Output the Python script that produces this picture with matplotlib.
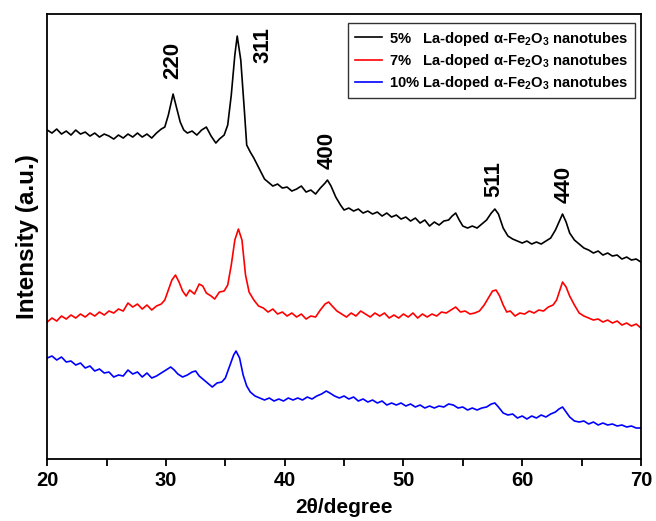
import numpy as np
import matplotlib
matplotlib.use("Agg")
import matplotlib.pyplot as plt
from matplotlib.ticker import MultipleLocator

plt.rcParams['font.family'] = ['Liberation Sans', 'DejaVu Sans']
plt.rcParams['font.weight'] = 'bold'
plt.rcParams['mathtext.fontset'] = 'custom'
plt.rcParams['mathtext.rm'] = 'Liberation Sans:bold'
plt.rcParams['mathtext.default'] = 'rm'

# 5% La-doped (black)
two_theta_5 = [20.0, 20.4, 20.8, 21.2, 21.6, 22.0, 22.4, 22.8, 23.2, 23.6,
               24.0, 24.4, 24.8, 25.2, 25.6, 26.0, 26.4, 26.8, 27.2, 27.6,
               28.0, 28.4, 28.8, 29.2, 29.6, 29.9, 30.2, 30.6, 30.9, 31.2,
               31.5, 31.8, 32.2, 32.6, 33.0, 33.4, 33.8, 34.2, 34.5, 34.9,
               35.2, 35.5, 35.8, 36.0, 36.3, 36.6, 36.8, 37.1, 37.4, 37.7,
               38.0, 38.3, 38.7, 39.0, 39.4, 39.8, 40.2, 40.6, 41.0, 41.4,
               41.8, 42.2, 42.6, 43.0, 43.4, 43.6, 43.9, 44.3, 44.7, 45.0,
               45.4, 45.8, 46.2, 46.6, 47.0, 47.4, 47.8, 48.2, 48.6, 49.0,
               49.4, 49.8, 50.2, 50.6, 51.0, 51.4, 51.8, 52.2, 52.6, 53.0,
               53.4, 53.8, 54.1, 54.4, 54.7, 55.0, 55.4, 55.8, 56.2, 56.6,
               57.0, 57.4, 57.7, 58.0, 58.4, 58.8, 59.2, 59.6, 60.0, 60.4,
               60.8, 61.2, 61.6, 62.0, 62.4, 62.8, 63.1, 63.4, 63.7, 64.0,
               64.4, 64.8, 65.2, 65.6, 66.0, 66.4, 66.8, 67.2, 67.6, 68.0,
               68.4, 68.8, 69.2, 69.6, 70.0]
intensity_5 = [330, 327, 331, 326, 329, 325, 330, 326, 328, 324,
               327, 323, 326, 324, 321, 325, 322, 326, 323, 327,
               323, 326, 322, 327, 331, 333, 345, 366, 352, 338,
               330, 327, 329, 325, 330, 333, 324, 317, 321, 325,
               335, 365, 405, 424, 400, 350, 315, 308, 302, 295,
               288, 281, 277, 274, 276, 272, 273, 269, 271, 274,
               268, 270, 266, 272, 277, 280, 274, 263, 255, 250,
               252, 249, 251, 247, 249, 246, 248, 244, 247, 243,
               245, 241, 243, 239, 242, 237, 240, 234, 238, 235,
               239, 240, 244, 247, 240, 234, 232, 234, 232, 236,
               240, 247, 251, 246, 232, 224, 221, 219, 217, 219,
               216, 218, 216, 219, 222, 230, 238, 246, 238, 227,
               220, 216, 212, 210, 207, 209, 205, 207, 204, 205,
               201, 203, 200, 201, 198]

# 7% La-doped (red)
two_theta_7 = [20.0, 20.4, 20.8, 21.2, 21.6, 22.0, 22.4, 22.8, 23.2, 23.6,
               24.0, 24.4, 24.8, 25.2, 25.6, 26.0, 26.4, 26.8, 27.2, 27.6,
               28.0, 28.4, 28.8, 29.2, 29.6, 29.9, 30.2, 30.5, 30.8, 31.1,
               31.4, 31.7, 32.0, 32.4, 32.8, 33.1, 33.4, 33.8, 34.1, 34.5,
               34.9, 35.2, 35.5, 35.8, 36.1, 36.4, 36.7, 37.0, 37.4, 37.8,
               38.2, 38.6, 39.0, 39.4, 39.8, 40.2, 40.6, 41.0, 41.4, 41.8,
               42.2, 42.6, 43.0, 43.4, 43.7, 44.0, 44.4, 44.8, 45.2, 45.6,
               46.0, 46.4, 46.8, 47.2, 47.6, 48.0, 48.4, 48.8, 49.2, 49.6,
               50.0, 50.4, 50.8, 51.2, 51.6, 52.0, 52.4, 52.8, 53.2, 53.6,
               54.0, 54.4, 54.8, 55.2, 55.6, 56.0, 56.4, 56.8, 57.2, 57.5,
               57.8, 58.1, 58.4, 58.7, 59.0, 59.4, 59.8, 60.2, 60.6, 61.0,
               61.4, 61.8, 62.2, 62.6, 62.9, 63.2, 63.4, 63.7, 64.0, 64.4,
               64.8, 65.2, 65.6, 66.0, 66.4, 66.8, 67.2, 67.6, 68.0, 68.4,
               68.8, 69.2, 69.6, 70.0]
intensity_7 = [138, 142, 139, 144, 141, 145, 142, 146, 143, 147,
               144, 148, 145, 149, 147, 151, 149, 157, 153, 156,
               151, 155, 150, 154, 156, 160, 170, 180, 185, 178,
               169, 164, 170, 166, 176, 174, 167, 164, 161, 168,
               169, 175, 195, 220, 231, 220, 185, 168, 160, 154,
               152, 148, 151, 146, 148, 144, 147, 143, 146, 141,
               144, 143, 150, 156, 158, 154, 149, 146, 143, 147,
               144, 149, 146, 143, 147, 144, 147, 142, 145, 142,
               146, 143, 147, 142, 146, 143, 146, 144, 148, 147,
               150, 153, 148, 149, 146, 147, 149, 155, 163, 169,
               170, 164, 155, 148, 149, 144, 147, 146, 149, 147,
               150, 149, 153, 155, 160, 171, 178, 173, 164, 155,
               147, 144, 142, 140, 141, 138, 140, 137, 139, 135,
               137, 134, 136, 132]

# 10% La-doped (blue)
two_theta_10 = [20.0, 20.4, 20.8, 21.2, 21.6, 22.0, 22.4, 22.8, 23.2, 23.6,
                24.0, 24.4, 24.8, 25.2, 25.6, 26.0, 26.4, 26.8, 27.2, 27.6,
                28.0, 28.4, 28.8, 29.2, 29.6, 30.0, 30.4, 30.7, 31.0, 31.4,
                31.8, 32.2, 32.5, 32.8, 33.2, 33.6, 33.9, 34.3, 34.7, 35.0,
                35.4, 35.7, 35.9, 36.2, 36.5, 36.8, 37.1, 37.5, 37.9, 38.3,
                38.7, 39.1, 39.5, 39.9, 40.3, 40.7, 41.1, 41.5, 41.9, 42.3,
                42.7, 43.1, 43.5, 43.8, 44.2, 44.6, 45.0, 45.4, 45.8, 46.2,
                46.6, 47.0, 47.4, 47.8, 48.2, 48.6, 49.0, 49.4, 49.8, 50.2,
                50.6, 51.0, 51.4, 51.8, 52.2, 52.6, 53.0, 53.4, 53.8, 54.2,
                54.6, 55.0, 55.4, 55.8, 56.2, 56.6, 57.0, 57.4, 57.7, 58.0,
                58.4, 58.8, 59.2, 59.6, 60.0, 60.4, 60.8, 61.2, 61.6, 62.0,
                62.4, 62.8, 63.1, 63.4, 63.7, 64.0, 64.4, 64.8, 65.2, 65.6,
                66.0, 66.4, 66.8, 67.2, 67.6, 68.0, 68.4, 68.8, 69.2, 69.6,
                70.0]
intensity_10 = [102, 104, 100, 103, 98, 99, 95, 97, 92, 94,
                89, 91, 87, 88, 83, 85, 84, 90, 86, 88,
                83, 87, 82, 84, 87, 90, 93, 90, 86, 83,
                85, 88, 89, 84, 80, 76, 73, 77, 78, 82,
                95, 105, 109, 102, 85, 74, 68, 64, 62, 60,
                62, 59, 61, 59, 62, 60, 62, 60, 63, 61,
                64, 66, 69, 67, 64, 62, 64, 61, 63, 59,
                61, 58, 60, 57, 59, 55, 57, 55, 57, 54,
                56, 53, 55, 52, 54, 52, 54, 53, 56, 55,
                52, 53, 50, 52, 50, 52, 53, 56, 57, 53,
                47, 45, 46, 42, 44, 41, 44, 42, 45, 43,
                46, 48, 51, 53, 48, 43, 39, 38, 39, 36,
                38, 35, 37, 35, 36, 34, 35, 33, 34, 32,
                32]

series_labels = ['5%   La-doped α-Fe$_2$O$_3$ nanotubes',
                 '7%   La-doped α-Fe$_2$O$_3$ nanotubes',
                 '10% La-doped α-Fe$_2$O$_3$ nanotubes']
series_colors = ['black', 'red', 'blue']

# peak indices and where their labels sit
peak_labels = ['220', '311', '400', '511', '440']
peak_pos = [30.6, 38.2, 43.6, 57.6, 63.5]
peak_label_y = [400, 415, 310, 281, 276]

fig = plt.figure(figsize=(6.56, 5.21), dpi=100)
ax = fig.add_axes([0.072, 0.119, 0.905, 0.854])

ax.plot(two_theta_5, intensity_5, color=series_colors[0], lw=1.2, label=series_labels[0])
ax.plot(two_theta_7, intensity_7, color=series_colors[1], lw=1.2, label=series_labels[1])
ax.plot(two_theta_10, intensity_10, color=series_colors[2], lw=1.2, label=series_labels[2])

for lab, x, y in zip(peak_labels, peak_pos, peak_label_y):
    ax.text(x, y, lab, rotation=90, ha='center', va='center', fontsize=16, fontweight='bold')

ax.set_xlim(20, 70)
ax.set_ylim(1, 446)
ax.xaxis.set_major_locator(MultipleLocator(10))
ax.xaxis.set_minor_locator(MultipleLocator(5))
ax.tick_params(axis='x', which='both', direction='out', length=5, width=1.3, labelsize=14.5)
ax.tick_params(axis='y', which='both', left=False, labelleft=False)
for s in ax.spines.values():
    s.set_linewidth(1.3)

ax.set_xlabel('2θ/degree', fontsize=15, fontweight='bold', labelpad=6)
ax.set_ylabel('Intensity (a.u.)', fontsize=17.5, fontweight='bold', labelpad=6)

leg = ax.legend(loc='upper right', bbox_to_anchor=(0.99, 0.98), fontsize=10.6,
                frameon=True, fancybox=False, edgecolor='black', handlelength=1.8,
                borderpad=0.45, labelspacing=0.28, handletextpad=0.5, borderaxespad=0)
leg.get_frame().set_linewidth(1.0)

plt.savefig('out.png', dpi=100)
